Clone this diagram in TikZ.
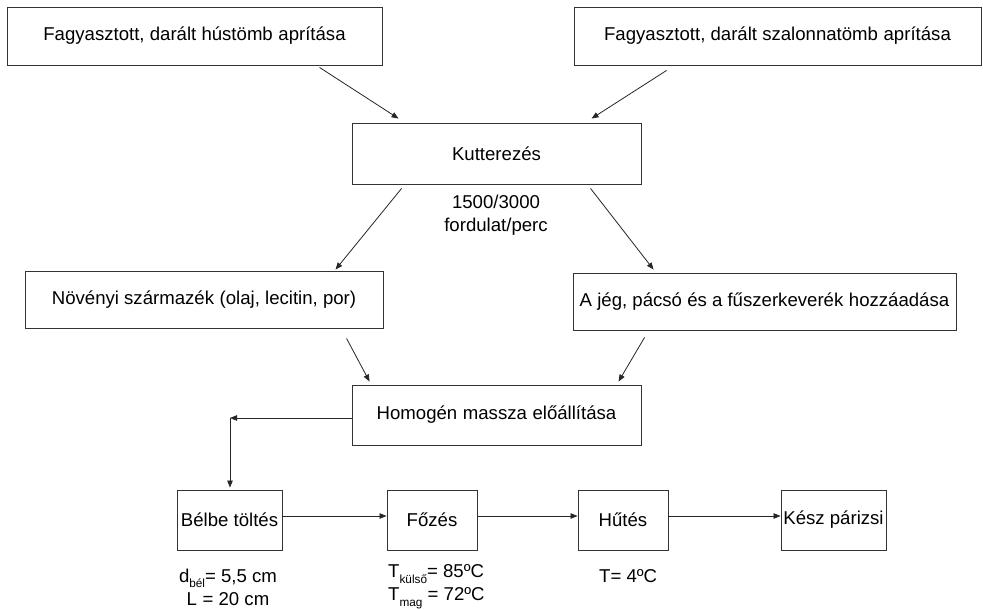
\documentclass[tikz,border=0pt]{standalone}
\usepackage{fontspec}
\setmainfont{Liberation Sans}
\usetikzlibrary{arrows.meta}
\tikzset{
  box/.style={draw=black!80, line width=0.9pt, rectangle, inner sep=0pt, text=black,
    font=\fontsize{18.6}{21}\selectfont},
  arr/.style={draw=black!85, line width=0.8pt, -{Triangle[length=7pt,width=5.5pt]}},
  lbl/.style={inner sep=0pt, text=black, font=\fontsize{18.6}{23}\selectfont}
}
\newcommand\sbs[1]{\raisebox{-0.3em}{\fontsize{11.8}{12}\selectfont #1}}
\newcommand\dsp{\hspace{0.3em}}
\begin{document}
\begin{tikzpicture}[x={(1pt,0)}, y={(0,-1pt)}]
\useasboundingbox (0,0) rectangle (983,610);
\fill[white] (0,0) rectangle (983,610);
% boxes
\node[box, minimum width=375pt, minimum height=58pt] (tl) at (194.5,36) {Fagyasztott, darált hústömb\dsp aprítása};
\node[box, minimum width=407pt, minimum height=58pt] (tr) at (777.5,36) {Fagyasztott, darált szalonnatömb\dsp aprítása};
\node[box, minimum width=289pt, minimum height=61pt] (kut) at (496.5,153.5) {Kutterezés};
\node[box, minimum width=358pt, minimum height=57pt] (nov) at (204,299.5) {Növényi származék\dsp (olaj, lecitin, por)};
\node[box, minimum width=383pt, minimum height=57pt] (jeg) at (764.5,301.5) {A jég, pácsó és a fűszerkeverék\dsp hozzáadása};
\node[box, minimum width=289pt, minimum height=60pt] (hom) at (496.5,415) {Homogén\dsp massza\dsp előállítása};
\node[box, minimum width=105pt, minimum height=60pt] (bel) at (229.5,520) {Bélbe töltés};
\node[box, minimum width=90pt, minimum height=60pt] (foz) at (432,520) {Főzés};
\node[box, minimum width=90pt, minimum height=60pt] (hut) at (623,520) {Hűtés};
\node[box, minimum width=105pt, minimum height=60pt] (kesz) at (833.5,520) {Kész párizsi};
% labels
\node[lbl, align=center] (rpm) at (496,215) {1500/3000\\fordulat/perc};
\node[lbl, align=center] (lbel) at (228,587) {d\sbs{bél}= 5,5 cm\\L\dsp = 20 cm};
\node[lbl, align=left, anchor=west] (lfoz) at (388,587) {T\sbs{külső}= 85ºC\\T\sbs{mag} = 72ºC};
\node[lbl, anchor=west] (lhut) at (599,576) {T= 4ºC};
% connectors
\draw[arr] ([xshift=313pt,yshift=-2pt]tl.south west) -- ([xshift=47pt,yshift=4pt]kut.north west);
\draw[arr] ([xshift=93pt,yshift=-5pt]tr.south west) -- ([xshift=240pt,yshift=4pt]kut.north west);
\draw[arr] ([xshift=50pt,yshift=-4pt]kut.south west) -- ([xshift=311pt,yshift=1pt]nov.north west);
\draw[arr] ([xshift=239pt,yshift=-4pt]kut.south west) -- ([xshift=81pt,yshift=3pt]jeg.north west);
\draw[arr] ([xshift=322pt,yshift=-10pt]nov.south west) -- ([xshift=18pt,yshift=3pt]hom.north west);
\draw[arr] ([xshift=72pt,yshift=-7pt]jeg.south west) -- ([xshift=267pt,yshift=3pt]hom.north west);
\coordinate (corner) at (230,418);
\draw[arr] ([yshift=-3pt]hom.west) -- (corner);
\draw[arr, shorten >=2pt] (corner) -- (corner |- bel.north);
\draw[arr] ([yshift=4pt]bel.east) -- ([yshift=4pt]foz.west);
\draw[arr] ([yshift=4pt]foz.east) -- ([yshift=4pt]hut.west);
\draw[arr] ([yshift=4pt]hut.east) -- ([yshift=4pt]kesz.west);
\end{tikzpicture}
\end{document}
